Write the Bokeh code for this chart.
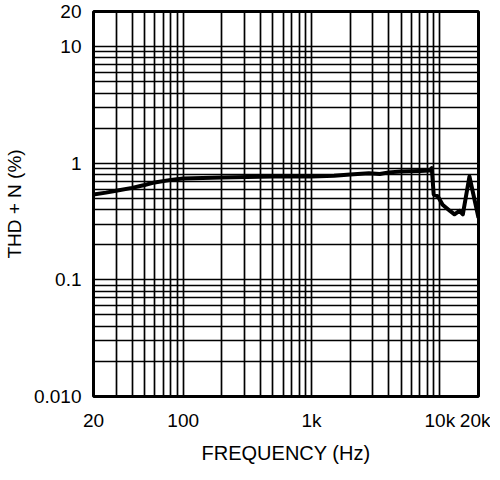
from bokeh.plotting import figure
from bokeh.models import Range1d, FixedTicker
from bokeh.embed import file_html
from bokeh.resources import INLINE

# data
freq_hz = [20, 25, 30, 40, 50, 60, 80, 100, 200, 500, 1000, 1500, 2000, 2800,
           3400, 4000, 5000, 7000, 8300, 8650, 8950, 9650, 10500, 12000, 13000,
           14200, 15100, 17000, 20000]
thd_pct = [0.54, 0.56, 0.58, 0.615, 0.65, 0.685, 0.72, 0.74, 0.755, 0.77, 0.77,
           0.78, 0.80, 0.82, 0.81, 0.835, 0.85, 0.86, 0.865, 0.91, 0.54, 0.52,
           0.44, 0.39, 0.365, 0.39, 0.365, 0.77, 0.34]

x_ticks = [20, 100, 1000, 10000, 20000]
x_tick_labels = ["20", "100", "1k", "10k", "20k"]
y_ticks = [0.01, 0.1, 1, 10, 20]
y_tick_labels = ["0.010", "0.1", "1", "10", "20"]

x_grid = [30, 40, 50, 60, 70, 80, 90, 100, 200, 300, 400, 500, 600, 700, 800, 900,
          1000, 2000, 3000, 4000, 5000, 6000, 7000, 8000, 9000, 10000]
y_grid = [0.02, 0.03, 0.04, 0.05, 0.06, 0.07, 0.08, 0.09, 0.1, 0.2, 0.3, 0.4, 0.5,
          0.6, 0.7, 0.8, 0.9, 1, 2, 3, 4, 5, 6, 7, 8, 9, 10]

FONT = "Liberation Sans"

p = figure(frame_width=385, frame_height=385, x_axis_type="log", y_axis_type="log",
           x_range=Range1d(20, 20000), y_range=Range1d(0.01, 20),
           output_backend="svg", toolbar_location=None,
           min_border_left=92, min_border_right=12, min_border_top=11,
           min_border_bottom=68)

p.background_fill_color = "white"
p.border_fill_color = "white"
p.outline_line_color = "black"
p.outline_line_width = 3

p.xgrid.ticker = FixedTicker(ticks=x_grid)
p.ygrid.ticker = FixedTicker(ticks=y_grid)
for g in (p.xgrid, p.ygrid):
    g.grid_line_color = "black"
    g.grid_line_width = 1.7
    g.grid_line_alpha = 1.0

p.xaxis.ticker = FixedTicker(ticks=x_ticks)
p.xaxis.major_label_overrides = {k: v for k, v in zip(x_ticks, x_tick_labels)}
p.yaxis.ticker = FixedTicker(ticks=y_ticks)
p.yaxis.major_label_overrides = {k: v for k, v in zip(y_ticks, y_tick_labels)}

for ax in (p.xaxis, p.yaxis):
    ax.axis_line_color = None
    ax.major_tick_line_color = None
    ax.minor_tick_line_color = None
    ax.major_tick_out = 0
    ax.major_tick_in = 0
    ax.major_label_text_font = FONT
    ax.major_label_text_font_size = "19px"
    ax.major_label_text_color = "black"
    ax.axis_label_text_font = FONT
    ax.axis_label_text_font_style = "normal"
    ax.axis_label_text_color = "black"

p.xaxis.axis_label = "FREQUENCY (Hz)"
p.yaxis.axis_label = "THD + N (%)"
p.xaxis.axis_label_text_font_size = "20px"
p.yaxis.axis_label_text_font_size = "19px"
p.xaxis.major_label_standoff = 13
p.xaxis.axis_label_standoff = 8
p.yaxis.major_label_standoff = 12
p.yaxis.axis_label_standoff = 6

p.line(freq_hz, thd_pct, line_color="black", line_width=4, line_join="round")

open("out.html", "w").write(file_html(p, INLINE))
